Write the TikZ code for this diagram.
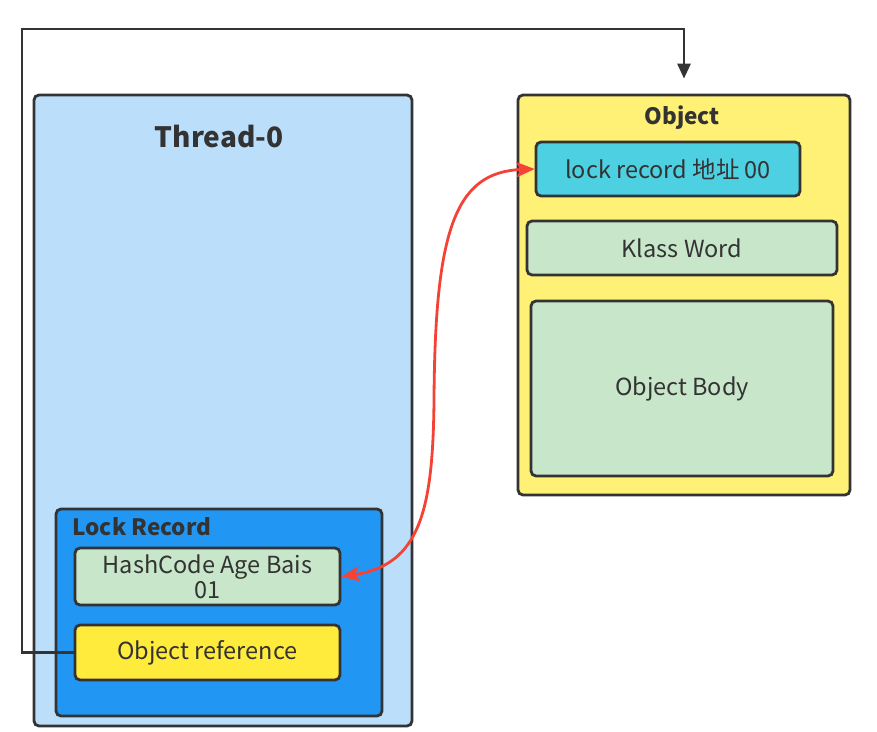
\documentclass[tikz,border=0pt]{standalone}
\usepackage{fontspec}
\setmainfont{Noto Sans CJK SC}
\usepackage{tikz}
\usetikzlibrary{arrows.meta, positioning, calc}
\definecolor{edgegray}{HTML}{333333}
\definecolor{threadblue}{HTML}{BBDEFB}
\definecolor{recblue}{HTML}{2196F3}
\definecolor{objyellow}{HTML}{FFF176}
\definecolor{refyellow}{HTML}{FFEB3B}
\definecolor{fieldgreen}{HTML}{C8E6C9}
\definecolor{markcyan}{HTML}{4DD0E1}
\definecolor{linkred}{HTML}{F44336}

\begin{document}
\begin{tikzpicture}[x=1pt, y=-1pt, font=\fontsize{23.5}{26}\selectfont, text=edgegray,
      b/.style={draw=edgegray, line width=2.8pt, rounded corners=5pt, inner sep=0pt, align=center},
      t/.style={font=\fontsize{22.5}{24}\selectfont\bfseries}]
    \useasboundingbox (0,0) rectangle (877,731);
    % thread side
    \node[b, fill=threadblue, minimum width=378, minimum height=631] (thr) at (223, 410.5) {};
    \node[t, font=\fontsize{28}{30}\selectfont\bfseries] (thrlbl) at (219, 137) {Thread-0};
    \node[b, fill=recblue, minimum width=326, minimum height=207] (rec) at (219, 612.5) {};
    \node[t, anchor=west] (reclbl) at (69, 527) {Lock Record};
    \node[b, fill=fieldgreen, minimum width=265, minimum height=57] (hash) at (207.5, 576.5)
      {HashCode Age Bais\\[-1pt]01};
    \node[b, fill=refyellow, minimum width=265, minimum height=55] (ref) at (207.5, 652.5) {Object reference};
    % object side
    \node[b, fill=objyellow, minimum width=332, minimum height=400] (obj) at (684, 295) {};
    \node[t] (objlbl) at (682, 118) {Object};
    \node[b, fill=markcyan, minimum width=264, minimum height=54] (mark) at (668, 169) {lock record 地址 00};
    \node[b, fill=fieldgreen, minimum width=310, minimum height=54] (klass) at (682, 248) {Klass Word};
    \node[b, fill=fieldgreen, minimum width=302, minimum height=175] (body) at (682, 388.5) {Object Body};
    % links
    \draw[edgegray, line width=2.8pt, -{Triangle[length=15pt, width=13pt]}, shorten >=15pt]
      (ref.west) -| (22, 29) -| (obj.north);
    \draw[linkred, line width=2.8pt, {Stealth[length=18pt, width=15pt, inset=4pt]}-{Stealth[length=18pt, width=15pt, inset=4pt]}]
      (hash.east) .. controls (420, 565) and (433, 510) .. (434, 400)
      .. controls (435, 230) and (455, 172) .. (mark.west);
  \end{tikzpicture}
\end{document}
